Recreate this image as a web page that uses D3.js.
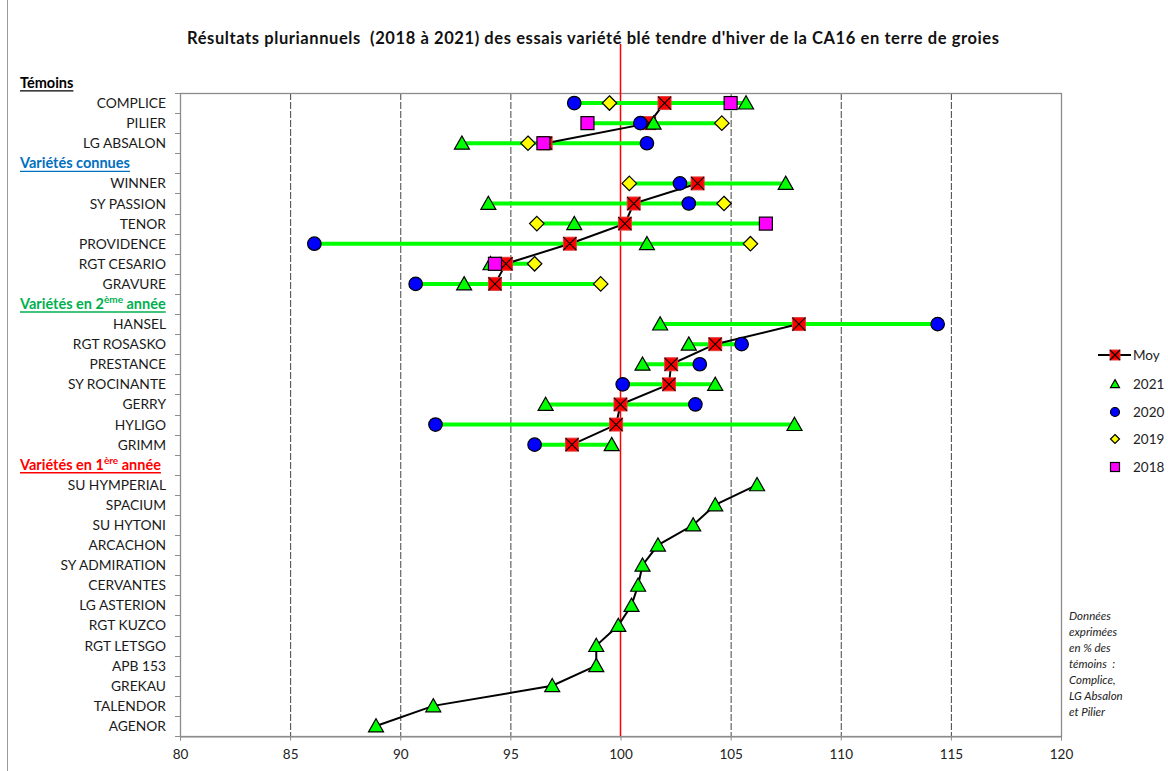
<!DOCTYPE html>
<html>
<head>
<meta charset="utf-8">
<script src="https://cdn.jsdelivr.net/npm/d3@7"></script>
<style>
  body { margin: 0; background: #fff; }
  text { font-family: Lato, "Open Sans", sans-serif; white-space: pre; }
</style>
</head>
<body>
<script>

var groups = ["Témoins", "Variétés connues", "Variétés en 2", "Variétés en 1"]
var groupSup = ["", "", "ème", "ère"]
var groupColors = ["#000000", "#0070C0", "#00B050", "#FF0000"]
var groupSizes = [3, 6, 7, 13]

var varieties = ["COMPLICE", "PILIER", "LG ABSALON",
  "WINNER", "SY PASSION", "TENOR", "PROVIDENCE", "RGT CESARIO", "GRAVURE",
  "HANSEL", "RGT ROSASKO", "PRESTANCE", "SY ROCINANTE", "GERRY", "HYLIGO", "GRIMM",
  "SU HYMPERIAL", "SPACIUM", "SU HYTONI", "ARCACHON", "SY ADMIRATION", "CERVANTES",
  "LG ASTERION", "RGT KUZCO", "RGT LETSGO", "APB 153", "GREKAU", "TALENDOR", "AGENOR"]

var y2021 = [105.7, 101.5, 92.8,
  107.5, 94.0, 97.9, 101.2, 94.1, 92.9,
  101.8, 103.1, 101.0, 104.3, 96.6, 107.9, 99.6,
  106.2, 104.3, 103.3, 101.7, 101.0, 100.8, 100.5, 99.9, 98.9, 98.9, 96.9, 91.5, 88.9]

var y2020 = [97.9, 100.9, 101.2,
  102.7, 103.1, null, 86.1, null, 90.7,
  114.4, 105.5, 103.6, 100.1, 103.4, 91.6, 96.1,
  null, null, null, null, null, null, null, null, null, null, null, null, null]

var y2019 = [99.5, 104.6, 95.8,
  100.4, 104.7, 96.2, 105.9, 96.1, 99.1,
  null, null, null, null, null, null, null,
  null, null, null, null, null, null, null, null, null, null, null, null, null]

var y2018 = [105.0, 98.5, 96.5,
  null, null, 106.6, null, 94.3, null,
  null, null, null, null, null, null, null,
  null, null, null, null, null, null, null, null, null, null, null, null, null]

var moy = [102.0, 101.3, 96.6,
  103.5, 100.6, 100.2, 97.7, 94.8, 94.3,
  108.1, 104.3, 102.3, 102.2, 100.0, 99.8, 97.8,
  null, null, null, null, null, null, null, null, null, null, null, null, null]

var xTicks = [80, 85, 90, 95, 100, 105, 110, 115, 120]
var gridTicks = [85, 90, 95, 105, 110, 115]

var legendItems = ["Moy", "2021", "2020", "2019", "2018"]

var title = "Résultats pluriannuels  (2018 à 2021) des essais variété blé tendre d'hiver de la CA16 en terre de groies"
var note = ["Données", "exprimées", "en % des", "témoins  :", "Complice,", "LG Absalon", "et Pilier"]

function main() {
  var svg = d3.select("body").append("svg").attr("width", 1168).attr("height", 771)

  var left = 180, right = 1061, top = 93, bottom = 736

  // build rows: a header row before each group, then its varieties
  var rows = []
  var k = 0
  for (var g = 0; g < groups.length; g++) {
    rows.push({header: true, group: g})
    for (var n = 0; n < groupSizes[g]; n++) {
      rows.push({header: false, group: g, i: k})
      k++
    }
  }

  var step = (bottom - top) / (rows.length - 1)
  var y = d3.scaleBand().domain(d3.range(rows.length)).range([top - step, bottom])
  var x = d3.scaleLinear().domain([80, 120]).range([left, right])
  var cy = function(r) { return y(r) + y.bandwidth() / 2 }

  var rowOf = []
  rows.forEach(function(r, idx) { if (!r.header) rowOf[r.i] = idx })

  // outer chart edge
  svg.append("line").attr("x1", 7.5).attr("x2", 7.5).attr("y1", 0).attr("y2", 771)
    .attr("stroke", "#9a9a9a")

  svg.append("text")
    .text(title)
    .attr("x", 593).attr("y", 44)
    .attr("text-anchor", "middle")
    .attr("font-size", 16.5).attr("font-weight", "bold")
    .attr("textLength", 812).attr("lengthAdjust", "spacing")
    .attr("fill", "#111")

  // grid
  svg.selectAll(".grid").data(gridTicks).enter().append("line")
    .attr("x1", function(d) { return x(d) + 0.5 }).attr("x2", function(d) { return x(d) + 0.5 })
    .attr("y1", top).attr("y2", bottom)
    .attr("stroke", "#444").attr("stroke-width", 1).attr("stroke-dasharray", "7,2")

  // plot frame
  svg.append("rect")
    .attr("x", left + 0.5).attr("y", top + 0.5)
    .attr("width", right - left).attr("height", bottom - top)
    .attr("fill", "none").attr("stroke", "#8c8c8c").attr("stroke-width", 1.3)

  // x axis
  var xAxis = svg.append("g").attr("transform", "translate(0," + (bottom + 0.5) + ")")
    .call(d3.axisBottom(x).tickValues(xTicks).tickSize(4).tickPadding(9))
  xAxis.select(".domain").attr("stroke", "#8c8c8c")
  xAxis.selectAll("line").attr("stroke", "#8c8c8c")
  xAxis.selectAll("text").attr("font-size", 13.5).attr("fill", "#222")
    .attr("font-family", "Lato, sans-serif")

  // y ticks at band boundaries
  var yt = d3.range(1, rows.length + 1)
  svg.selectAll(".ytick").data(yt).enter().append("line")
    .attr("x1", left - 5).attr("x2", left)
    .attr("y1", function(d) { return Math.round(top + (d - 1) * step) + 0.5 })
    .attr("y2", function(d) { return Math.round(top + (d - 1) * step) + 0.5 })
    .attr("stroke", "#8c8c8c")

  // row labels
  rows.forEach(function(r, idx) {
    if (r.header) {
      var t = svg.append("text")
        .attr("x", 20).attr("y", cy(idx) + 5)
        .attr("font-size", 14.5).attr("font-weight", "bold")
        .attr("fill", groupColors[r.group])
      t.append("tspan").text(groups[r.group])
      if (groupSup[r.group]) {
        t.append("tspan").text(groupSup[r.group]).attr("font-size", 10).attr("dy", -6)
        t.append("tspan").text(" année").attr("dy", 6)
      }
      var w = t.node().getComputedTextLength()
      svg.append("line")
        .attr("x1", 20).attr("x2", 20 + w)
        .attr("y1", cy(idx) + 8).attr("y2", cy(idx) + 8)
        .attr("stroke", groupColors[r.group]).attr("stroke-width", 1.3)
    } else {
      svg.append("text")
        .text(varieties[r.i])
        .attr("x", 166).attr("y", cy(idx) + 5)
        .attr("text-anchor", "end")
        .attr("font-size", 13.8).attr("fill", "#1a1a1a")
    }
  })

  // 100 line
  svg.append("line")
    .attr("x1", x(100)).attr("x2", x(100)).attr("y1", 44).attr("y2", bottom)
    .attr("stroke", "#FF0000").attr("stroke-width", 1.5)

  // green ranges
  varieties.forEach(function(v, i) {
    var vals = [y2021[i], y2020[i], y2019[i], y2018[i]].filter(function(d) { return d != null })
    if (vals.length < 2) return
    svg.append("line")
      .attr("x1", x(d3.min(vals))).attr("x2", x(d3.max(vals)))
      .attr("y1", cy(rowOf[i])).attr("y2", cy(rowOf[i]))
      .attr("stroke", "#00FF00").attr("stroke-width", 4)
  })

  // black trend line per group (moy, or 2021 value for first-year varieties)
  var trend = varieties.map(function(v, i) {
    var r = rows[rowOf[i]]
    return moy[i] != null ? moy[i] : (r.group == 3 ? y2021[i] : null)
  })
  var line = d3.line()
    .defined(function(d) { return !d.header && trend[d.i] != null })
    .x(function(d) { return x(trend[d.i]) })
    .y(function(d) { return cy(d.idx) })
  var rowPts = rows.map(function(r, idx) { return {header: r.header, i: r.i, idx: idx} })
  svg.append("path").datum(rowPts).attr("d", line)
    .attr("fill", "none").attr("stroke", "#000").attr("stroke-width", 2)

  // markers
  drawSeries(svg, moy, "moy", x, function(i) { return cy(rowOf[i]) }, 13)
  drawSeries(svg, y2021, "tri", x, function(i) { return cy(rowOf[i]) }, 15)
  drawSeries(svg, y2020, "circle", x, function(i) { return cy(rowOf[i]) }, 13.5)
  drawSeries(svg, y2019, "diamond", x, function(i) { return cy(rowOf[i]) }, 14.5)
  drawSeries(svg, y2018, "square", x, function(i) { return cy(rowOf[i]) }, 13)

  // legend
  var lx = 1115
  var ly = [355, 384, 412, 439, 467]
  var types = ["moy", "tri", "circle", "diamond", "square"]
  svg.append("line").attr("x1", 1098).attr("x2", 1131).attr("y1", ly[0]).attr("y2", ly[0])
    .attr("stroke", "#000").attr("stroke-width", 2)
  legendItems.forEach(function(name, j) {
    addMarker(svg, types[j], lx, ly[j], j == 0 ? 10 : 9)
    svg.append("text").text(name)
      .attr("x", 1133).attr("y", ly[j] + 5)
      .attr("font-size", 13.5).attr("fill", "#222")
  })

  // note
  note.forEach(function(s, j) {
    svg.append("text").text(s)
      .attr("x", 1069).attr("y", 620 + j * 16)
      .attr("font-size", 11.5).attr("font-style", "italic").attr("fill", "#222")
  })
}

function drawSeries(svg, values, type, x, yOf, size) {
  values.forEach(function(v, i) {
    if (v == null) return
    addMarker(svg, type, x(v), yOf(i), size)
  })
}

function addMarker(svg, type, cx, cy, s) {
  var h = s / 2
  if (type == "circle") {
    svg.append("circle").attr("cx", cx).attr("cy", cy).attr("r", h)
      .attr("fill", "#0000FF").attr("stroke", "#000").attr("stroke-width", 1.2)
  } else if (type == "tri") {
    var th = s * 0.88
    svg.append("path")
      .attr("d", "M" + cx + "," + (cy - th * 0.55) + "L" + (cx + h) + "," + (cy + th * 0.45) + "L" + (cx - h) + "," + (cy + th * 0.45) + "Z")
      .attr("fill", "#00FF00").attr("stroke", "#000").attr("stroke-width", 1.2)
  } else if (type == "diamond") {
    svg.append("path")
      .attr("d", "M" + cx + "," + (cy - h) + "L" + (cx + h) + "," + cy + "L" + cx + "," + (cy + h) + "L" + (cx - h) + "," + cy + "Z")
      .attr("fill", "#FFFF00").attr("stroke", "#000").attr("stroke-width", 1.2)
  } else if (type == "square") {
    svg.append("rect").attr("x", cx - h).attr("y", cy - h).attr("width", s).attr("height", s)
      .attr("fill", "#FF00FF").attr("stroke", "#000").attr("stroke-width", 1.2)
  } else if (type == "moy") {
    svg.append("rect").attr("x", cx - h).attr("y", cy - h).attr("width", s).attr("height", s)
      .attr("fill", "#FF0000").attr("stroke", "#e04040").attr("stroke-width", 1)
    svg.append("path")
      .attr("d", "M" + (cx - h) + "," + (cy - h) + "L" + (cx + h) + "," + (cy + h) + "M" + (cx + h) + "," + (cy - h) + "L" + (cx - h) + "," + (cy + h))
      .attr("stroke", "#000").attr("stroke-width", 1.1)
  }
}

main()
</script>
</body>
</html>
